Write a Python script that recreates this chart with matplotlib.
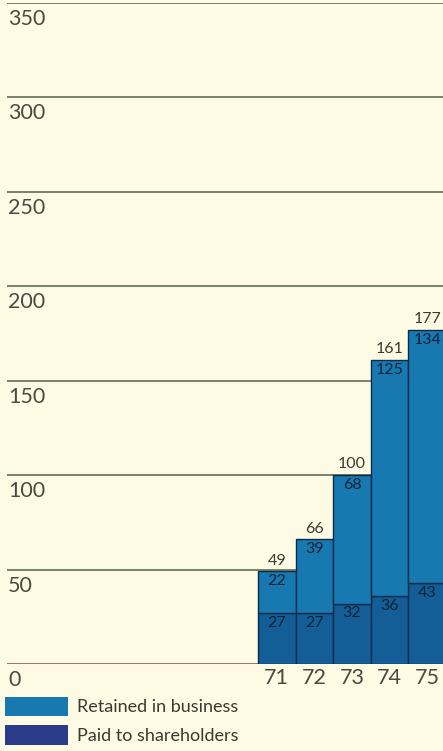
import matplotlib
matplotlib.use("Agg")
import matplotlib.pyplot as plt
from matplotlib.patches import Rectangle

years = ["71", "72", "73", "74", "75"]
paid = [27, 27, 32, 36, 43]
retained = [22, 39, 68, 125, 134]
totals = [49, 66, 100, 161, 177]
grid_values = [50, 100, 150, 200, 250, 300, 350]

W, H = 443, 751
bg = "#fdfbe4"
c_retained = "#1878b0"
c_paid = "#135e96"
c_legend_paid = "#2c3a8a"
edge = "#0d2a4a"

plt.rcParams["font.family"] = ["Lato", "DejaVu Sans"]

fig = plt.figure(figsize=(W / 100, H / 100), dpi=100, facecolor=bg)
y0_px, y350_px = 664, 3
ax = fig.add_axes([0, (H - y0_px) / H, 1, (y0_px - y350_px) / H])
ax.set_facecolor(bg)
ax.set_ylim(0, 350)

bar_w_px = 37.6
first_left_px = 258
xmin = -0.5 - first_left_px / bar_w_px
xmax = xmin + W / bar_w_px
ax.set_xlim(xmin, xmax)
for s in ax.spines.values():
    s.set_visible(False)
ax.set_xticks([])
ax.set_yticks([])

line_start = xmin + 7 / bar_w_px
ppu = (y0_px - y350_px) / 350.0  # pixels per unit

for v in grid_values:
    ax.hlines(v, line_start, xmax, color="#5d6e52", lw=1.2, zorder=1)
    ax.text(line_start + 1 / bar_w_px, v - 6 / ppu, str(v), ha="left", va="top",
            fontsize=15.5, color="#4a4a42", zorder=1)
ax.hlines(0, line_start, xmax, color="#a87060", lw=1.4, zorder=1)
ax.text(line_start + 1 / bar_w_px, -6 / ppu, "0", ha="left", va="top",
        fontsize=15.5, color="#4a4a42", clip_on=False)

x = list(range(len(years)))
ax.bar(x, paid, width=1.0, color=c_paid, edgecolor=edge, lw=1.0, zorder=3)
ax.bar(x, retained, bottom=paid, width=1.0, color=c_retained, edgecolor=edge, lw=1.0, zorder=3)

for i in x:
    ax.text(i, totals[i] + 2, str(totals[i]), ha="center", va="bottom",
            fontsize=11.5, color="#3a3a34", zorder=4)
    ax.text(i, paid[i] + retained[i] - 1.5, str(retained[i]), ha="center", va="top",
            fontsize=11.5, color="#0d2238", zorder=4)
    ax.text(i, paid[i] - 1.5, str(paid[i]), ha="center", va="top",
            fontsize=11.5, color="#0d2238", zorder=4)
    ax.text(i, -4 / ppu, years[i], ha="center", va="top", fontsize=15.5,
            color="#4a4a42", clip_on=False)

# legend swatches and labels
def px_rect(x0, y0, x1, y1, color):
    fig.add_artist(Rectangle((x0 / W, 1 - y1 / H), (x1 - x0) / W, (y1 - y0) / H,
                             transform=fig.transFigure, facecolor=color,
                             edgecolor="none"))

px_rect(5, 697, 68, 716, c_retained)
px_rect(5, 725, 68, 745, c_legend_paid)
fig.text(77 / W, 1 - 707 / H, "Retained in business", ha="left", va="center",
         fontsize=13, color="#3a3a34")
fig.text(77 / W, 1 - 736 / H, "Paid to shareholders", ha="left", va="center",
         fontsize=13, color="#3a3a34")

fig.savefig("out.png", dpi=100, facecolor=bg)
